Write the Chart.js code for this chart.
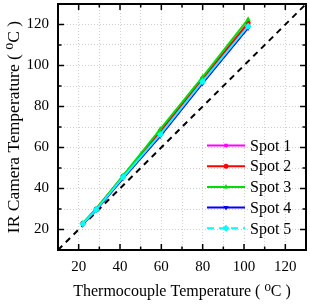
<!DOCTYPE html>
<html><head><meta charset="utf-8">
<script src="https://cdn.jsdelivr.net/npm/chart.js@4/dist/chart.umd.min.js"></script>
<style>html,body{margin:0;padding:0;background:#fff}canvas{display:block}</style>
</head><body>
<canvas id="c" width="310" height="304"></canvas>
<script>
// ---- data ----
const thermocouple = [22, 28.5, 41.5, 59.5, 80, 102];
const spot1 = [23, 30, 46, 67.5, 93, 120];
const spot2 = [23, 30, 46, 68, 93.6, 120.8];
const spot3 = [23, 30, 46.3, 69, 94.4, 122.6];
const spot4 = [22.5, 29.5, 45, 65.6, 91.4, 118.3];
const spot5 = [22.8, 29.7, 45.5, 66.4, 92.2, 119.2];
const seriesLabels = ['Spot 1', 'Spot 2', 'Spot 3', 'Spot 4', 'Spot 5'];
const identityLine = [10, 130];
const xTickLabels = [20, 40, 60, 80, 100, 120];
const yTickLabels = [20, 40, 60, 80, 100, 120];
const xTitle = 'Thermocouple Temperature ( \u2070C )';
const yTitle = 'IR Camera Temperature ( \u2070C )';

const serif = "'Liberation Serif', 'Times New Roman', 'DejaVu Serif', serif";
const pts = (xs, ys) => xs.map((v, i) => ({x: v, y: ys[i]}));

const styles = [
  {color: '#ff00ff', pointStyle: 'rect', rot: 0, r: 2.5, dash: []},
  {color: '#ff0000', pointStyle: 'circle', rot: 0, r: 2.5, dash: []},
  {color: '#00dd00', pointStyle: 'triangle', rot: 0, r: 3, dash: []},
  {color: '#0000ff', pointStyle: 'triangle', rot: 180, r: 3, dash: []},
  {color: '#00ffff', pointStyle: 'rectRot', rot: 0, r: 3.5, dash: [7, 5]}
];
const seriesValues = [spot1, spot2, spot3, spot4, spot5];

const datasets = seriesValues.map((vals, i) => ({
  label: seriesLabels[i],
  data: pts(thermocouple, vals),
  showLine: true,
  borderColor: styles[i].color,
  backgroundColor: styles[i].color,
  pointBackgroundColor: styles[i].color,
  pointBorderColor: styles[i].color,
  pointBorderWidth: 0,
  borderWidth: 2,
  borderDash: [],
  pointStyle: styles[i].pointStyle,
  pointRotation: styles[i].rot,
  pointRadius: styles[i].r,
  legendDash: styles[i].dash,
  order: 4 - i
}));
datasets.push({
  label: 'identity',
  data: pts(identityLine, identityLine),
  showLine: true,
  borderColor: '#000',
  borderWidth: 2,
  borderDash: [6, 5],
  pointRadius: 0,
  order: 10
});

const framePlugin = {
  id: 'frame',
  afterDraw(chart) {
    const {ctx, chartArea: a, scales: {x, y}} = chart;
    ctx.save();
    ctx.strokeStyle = '#000';
    ctx.lineWidth = 1.5;
    const seg = (x1, y1, x2, y2) => { ctx.beginPath(); ctx.moveTo(x1, y1); ctx.lineTo(x2, y2); ctx.stroke(); };
    for (let v = 10; v <= 130; v += 10) {
      const L = (v % 20 === 0) ? 6 : 3.5;
      const px = x.getPixelForValue(v);
      seg(px, a.bottom, px, a.bottom - L);
      seg(px, a.top, px, a.top + L);
      const py = y.getPixelForValue(v);
      seg(a.left, py, a.left + L, py);
      seg(a.right, py, a.right - L, py);
    }
    ctx.lineWidth = 2;
    ctx.strokeRect(a.left, a.top, a.right - a.left, a.bottom - a.top);

    // legend
    ctx.font = '16px ' + serif;
    ctx.textBaseline = 'middle';
    ctx.textAlign = 'left';
    ctx.fillStyle = '#000';
    const x0 = a.right - 99, x1 = a.right - 61, tx = a.right - 56;
    let yy = a.top + 141.5;
    chart.data.datasets.forEach(ds => {
      if (!seriesLabels.includes(ds.label)) return;
      ctx.strokeStyle = ds.borderColor;
      ctx.lineWidth = 2;
      ctx.setLineDash(ds.legendDash);
      seg(x0, yy, x1, yy);
      ctx.setLineDash([]);
      ctx.fillStyle = ds.pointBackgroundColor;
      Chart.helpers.drawPoint(ctx, {pointStyle: ds.pointStyle, rotation: ds.pointRotation, radius: ds.pointRadius, borderWidth: 0}, (x0 + x1) / 2, yy);
      ctx.fillStyle = '#000';
      ctx.fillText(ds.label, tx, yy + 1);
      yy += 20.7;
    });
    ctx.restore();
  }
};

const zeroPad = s => { s.paddingTop = 0; s.paddingBottom = 0; s.paddingLeft = 0; s.paddingRight = 0; };

new Chart(document.getElementById('c'), {
  type: 'scatter',
  data: {datasets},
  options: {
    responsive: false,
    devicePixelRatio: 1,
    animation: false,
    layout: {padding: {top: 2, right: 2, left: 0, bottom: 0}},
    plugins: {legend: {display: false}, tooltip: {enabled: false}},
    scales: {
      x: {
        type: 'linear', min: 10, max: 130,
        afterFit: s => { s.height = 54; zeroPad(s); },
        border: {display: false, dash: [1, 2]},
        grid: {color: '#cfcfcf', lineWidth: 1, drawTicks: false},
        ticks: {stepSize: 10, autoSkip: false, maxRotation: 0, padding: 8,
          color: '#000', font: {family: serif, size: 15},
          callback: v => xTickLabels.includes(v) ? String(v) : ''},
        title: {display: true, text: xTitle, color: '#000', font: {family: serif, size: 16}, padding: {top: 0, bottom: 3}}
      },
      y: {
        type: 'linear', min: 10, max: 130,
        afterFit: s => { s.width = 58; zeroPad(s); },
        border: {display: false, dash: [1, 2]},
        grid: {color: '#cfcfcf', lineWidth: 1, drawTicks: false},
        ticks: {stepSize: 10, autoSkip: false, padding: 9,
          color: '#000', font: {family: serif, size: 15},
          callback: v => yTickLabels.includes(v) ? String(v) : ''},
        title: {display: true, text: yTitle, color: '#000', font: {family: serif, size: 17.5}, padding: {top: 4, bottom: 0}}
      }
    }
  },
  plugins: [framePlugin]
});
</script>
</body></html>
